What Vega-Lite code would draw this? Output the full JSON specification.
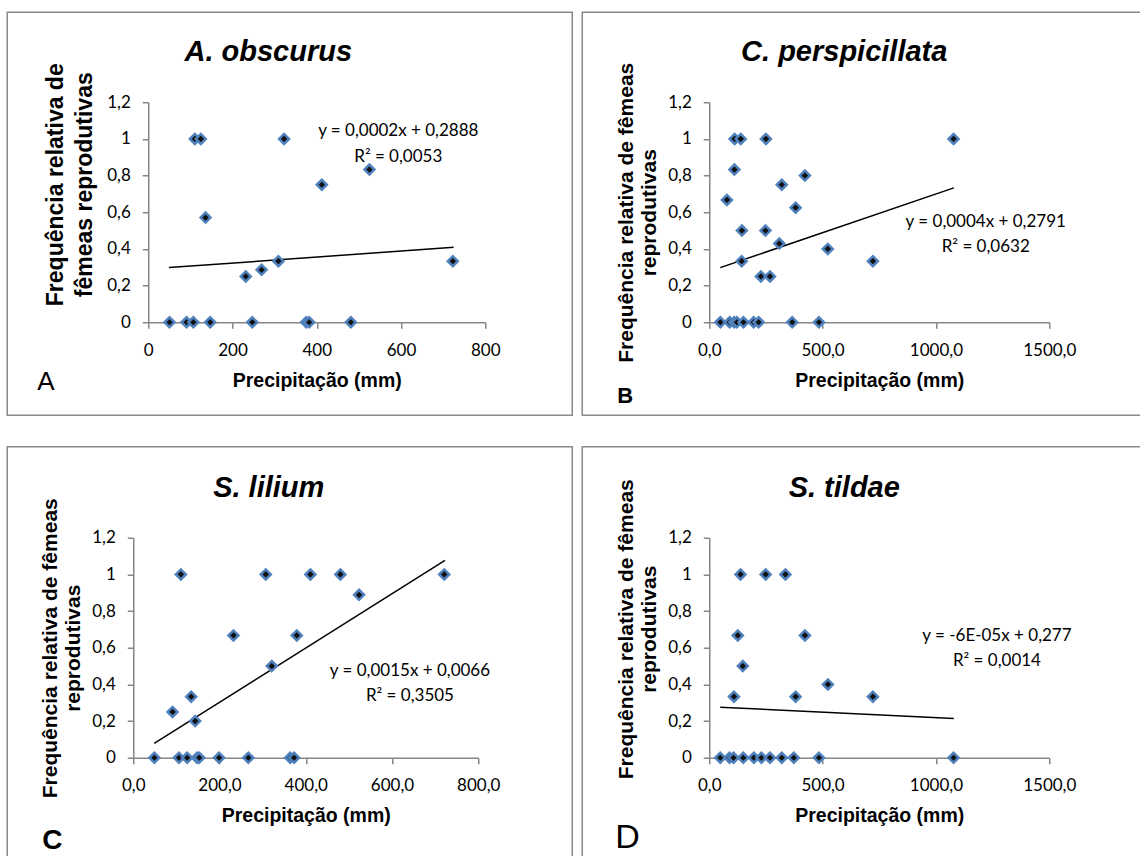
{
  "$schema": "https://vega.github.io/schema/vega-lite/v6.json",
  "background": "white",
  "padding": {"left": 6.25, "top": 11.25, "right": 0, "bottom": 0},
  "datasets": {
    "points": [
      {"species": "A. obscurus", "precip": 50.5, "freq": 0},
      {"species": "A. obscurus", "precip": 91, "freq": 0},
      {"species": "A. obscurus", "precip": 107, "freq": 0},
      {"species": "A. obscurus", "precip": 147, "freq": 0},
      {"species": "A. obscurus", "precip": 247, "freq": 0},
      {"species": "A. obscurus", "precip": 375, "freq": 0},
      {"species": "A. obscurus", "precip": 382, "freq": 0},
      {"species": "A. obscurus", "precip": 481, "freq": 0},
      {"species": "A. obscurus", "precip": 110.6, "freq": 1},
      {"species": "A. obscurus", "precip": 124.8, "freq": 1},
      {"species": "A. obscurus", "precip": 322.5, "freq": 1},
      {"species": "A. obscurus", "precip": 136, "freq": 0.571},
      {"species": "A. obscurus", "precip": 412, "freq": 0.75},
      {"species": "A. obscurus", "precip": 525, "freq": 0.833},
      {"species": "A. obscurus", "precip": 231.5, "freq": 0.25},
      {"species": "A. obscurus", "precip": 269, "freq": 0.286},
      {"species": "A. obscurus", "precip": 309, "freq": 0.333},
      {"species": "A. obscurus", "precip": 723, "freq": 0.333},

      {"species": "C. perspicillata", "precip": 49, "freq": 0},
      {"species": "C. perspicillata", "precip": 90, "freq": 0},
      {"species": "C. perspicillata", "precip": 110, "freq": 0},
      {"species": "C. perspicillata", "precip": 122, "freq": 0},
      {"species": "C. perspicillata", "precip": 151, "freq": 0},
      {"species": "C. perspicillata", "precip": 196, "freq": 0},
      {"species": "C. perspicillata", "precip": 218, "freq": 0},
      {"species": "C. perspicillata", "precip": 366, "freq": 0},
      {"species": "C. perspicillata", "precip": 484, "freq": 0},
      {"species": "C. perspicillata", "precip": 112, "freq": 1},
      {"species": "C. perspicillata", "precip": 139, "freq": 1},
      {"species": "C. perspicillata", "precip": 250, "freq": 1},
      {"species": "C. perspicillata", "precip": 1078, "freq": 1},
      {"species": "C. perspicillata", "precip": 111, "freq": 0.833},
      {"species": "C. perspicillata", "precip": 78, "freq": 0.667},
      {"species": "C. perspicillata", "precip": 144, "freq": 0.5},
      {"species": "C. perspicillata", "precip": 248, "freq": 0.5},
      {"species": "C. perspicillata", "precip": 143, "freq": 0.333},
      {"species": "C. perspicillata", "precip": 228, "freq": 0.25},
      {"species": "C. perspicillata", "precip": 268, "freq": 0.25},
      {"species": "C. perspicillata", "precip": 309, "freq": 0.429},
      {"species": "C. perspicillata", "precip": 320, "freq": 0.75},
      {"species": "C. perspicillata", "precip": 422, "freq": 0.8},
      {"species": "C. perspicillata", "precip": 381, "freq": 0.625},
      {"species": "C. perspicillata", "precip": 523, "freq": 0.4},
      {"species": "C. perspicillata", "precip": 722, "freq": 0.333},

      {"species": "S. lilium", "precip": 49, "freq": 0},
      {"species": "S. lilium", "precip": 106, "freq": 0},
      {"species": "S. lilium", "precip": 125, "freq": 0},
      {"species": "S. lilium", "precip": 148, "freq": 0},
      {"species": "S. lilium", "precip": 153, "freq": 0},
      {"species": "S. lilium", "precip": 199, "freq": 0},
      {"species": "S. lilium", "precip": 267, "freq": 0},
      {"species": "S. lilium", "precip": 364, "freq": 0},
      {"species": "S. lilium", "precip": 373, "freq": 0},
      {"species": "S. lilium", "precip": 110.4, "freq": 1},
      {"species": "S. lilium", "precip": 307.3, "freq": 1},
      {"species": "S. lilium", "precip": 410.8, "freq": 1},
      {"species": "S. lilium", "precip": 480.3, "freq": 1},
      {"species": "S. lilium", "precip": 721.2, "freq": 1},
      {"species": "S. lilium", "precip": 523.6, "freq": 0.889},
      {"species": "S. lilium", "precip": 232.4, "freq": 0.667},
      {"species": "S. lilium", "precip": 379.2, "freq": 0.667},
      {"species": "S. lilium", "precip": 321.2, "freq": 0.5},
      {"species": "S. lilium", "precip": 134.4, "freq": 0.333},
      {"species": "S. lilium", "precip": 91.1, "freq": 0.25},
      {"species": "S. lilium", "precip": 143.6, "freq": 0.2},

      {"species": "S. tildae", "precip": 48.5, "freq": 0},
      {"species": "S. tildae", "precip": 89.5, "freq": 0},
      {"species": "S. tildae", "precip": 107, "freq": 0},
      {"species": "S. tildae", "precip": 150, "freq": 0},
      {"species": "S. tildae", "precip": 197, "freq": 0},
      {"species": "S. tildae", "precip": 230, "freq": 0},
      {"species": "S. tildae", "precip": 268, "freq": 0},
      {"species": "S. tildae", "precip": 320, "freq": 0},
      {"species": "S. tildae", "precip": 373, "freq": 0},
      {"species": "S. tildae", "precip": 484, "freq": 0},
      {"species": "S. tildae", "precip": 1078, "freq": 0},
      {"species": "S. tildae", "precip": 138, "freq": 1},
      {"species": "S. tildae", "precip": 249, "freq": 1},
      {"species": "S. tildae", "precip": 336, "freq": 1},
      {"species": "S. tildae", "precip": 126, "freq": 0.667},
      {"species": "S. tildae", "precip": 422, "freq": 0.667},
      {"species": "S. tildae", "precip": 148, "freq": 0.5},
      {"species": "S. tildae", "precip": 109, "freq": 0.333},
      {"species": "S. tildae", "precip": 381, "freq": 0.333},
      {"species": "S. tildae", "precip": 722, "freq": 0.333},
      {"species": "S. tildae", "precip": 523.5, "freq": 0.4}
    ],
    "trend": [
      {"species": "A. obscurus", "precip": 49, "freq": 0.298},
      {"species": "A. obscurus", "precip": 725, "freq": 0.409},
      {"species": "C. perspicillata", "precip": 48.5, "freq": 0.298},
      {"species": "C. perspicillata", "precip": 1079, "freq": 0.733},
      {"species": "S. lilium", "precip": 48.6, "freq": 0.078},
      {"species": "S. lilium", "precip": 722.8, "freq": 1.076},
      {"species": "S. tildae", "precip": 48.5, "freq": 0.276},
      {"species": "S. tildae", "precip": 1079, "freq": 0.2145}
    ]
  },
  "config": {
    "locale": {"number": {"decimal": ",", "thousands": ".", "grouping": [3], "currency": ["R$", ""]}},
    "view": {"stroke": null},
    "axis": {"grid": false, "domainColor": "#868686", "domainWidth": 1.5, "tickColor": "#868686", "tickWidth": 1.5, "tickSize": 6, "labelFont": "Lato", "labelFontSize": 17, "labelColor": "#000000", "titleFont": "Liberation Sans", "titleFontWeight": "bold", "titleColor": "#000000", "labelOverlap": false, "labelBound": false},
    "axisX": {"labelPadding": 14, "titleFontSize": 19.5, "titlePadding": 13, "labelAngle": 0, "labelFlush": false},
    "axisY": {"labelPadding": 12, "titleFontSize": 21, "titleLineHeight": 23.5, "titlePadding": 8, "labelSeparation": 0},
    "title": {"frame": "group", "anchor": "middle", "baseline": "alphabetic", "font": "Liberation Sans", "fontSize": 29, "fontStyle": "italic", "fontWeight": "bold", "color": "#000000"},
    "text": {"font": "Lato", "fontSize": 17, "color": "#000000"}
  },
  "bounds": "full",
  "spacing": 29.5,
  "vconcat": [
    {
      "bounds": "flush",
      "spacing": 224,
      "hconcat": [
        {
          "width": 352, "height": 220,
          "title": {"text": "A. obscurus", "dx": -41, "offset": -55.75},
          "layer": [
            {
              "data": {"values": [{}]},
              "mark": {"type": "rect", "fillOpacity": 0, "stroke": "#898989", "strokeWidth": 1.5, "clip": false},
              "encoding": {
                "x": {"datum": -334.7, "type": "quantitative", "scale": {"domain": [0, 800], "range": [15, 352], "nice": false, "zero": false}, "axis": {"title": "Precipitação (mm)", "values": [0, 200, 400, 600, 800], "tickCount": 10, "format": "d", "labelOverlap": false}},
                "x2": {"datum": 1006.5},
                "y": {"datum": 1.691, "type": "quantitative", "scale": {"domain": [0, 1.2], "nice": false, "zero": false}, "axis": {"title": ["Frequência relativa de", "fêmeas reprodutivas"], "offset": -15, "titleFontSize": 23, "titleLineHeight": 29, "titleY": 82, "titlePadding": 10, "values": [0, 0.2, 0.4, 0.6, 0.8, 1, 1.2], "tickCount": 10, "format": ".1~f", "labelOverlap": false}},
                "y2": {"datum": -0.507}
              }
            },
            {
              "data": {"name": "trend"},
              "transform": [{"filter": "datum.species === 'A. obscurus'"}],
              "mark": {"type": "line", "color": "#000000", "strokeWidth": 1.5},
              "encoding": {
                "x": {"field": "precip", "type": "quantitative", "scale": {"domain": [0, 800], "range": [15, 352], "nice": false, "zero": false}},
                "y": {"field": "freq", "type": "quantitative", "scale": {"domain": [0, 1.2], "nice": false, "zero": false}}
              }
            },
            {
              "data": {"name": "points"},
              "transform": [{"filter": "datum.species === 'A. obscurus'"}],
              "mark": {"type": "point", "shape": "diamond", "filled": true, "fill": "#111111", "stroke": "#4F81BD", "strokeWidth": 2.5, "size": 100, "opacity": 1},
              "encoding": {
                "x": {"field": "precip", "type": "quantitative", "scale": {"domain": [0, 800], "range": [15, 352], "nice": false, "zero": false}},
                "y": {"field": "freq", "type": "quantitative", "scale": {"domain": [0, 1.2], "nice": false, "zero": false}}
              }
            },
            {
              "data": {"values": [{}]},
              "mark": {"type": "text", "text": ["y = 0,0002x + 0,2888", "R² = 0,0053"], "align": "center", "baseline": "alphabetic", "lineHeight": 26},
              "encoding": {
                "x": {"datum": 593.5, "type": "quantitative", "scale": {"domain": [0, 800], "range": [15, 352], "nice": false, "zero": false}},
                "y": {"datum": 1.0145, "type": "quantitative", "scale": {"domain": [0, 1.2], "nice": false, "zero": false}}
              }
            },
            {
              "data": {"values": [{}]},
              "mark": {"type": "text", "text": "A", "align": "left", "baseline": "alphabetic", "font": "Liberation Sans", "fontSize": 26, "fontWeight": "normal"},
              "encoding": {
                "x": {"datum": -263.5, "type": "quantitative", "scale": {"domain": [0, 800], "range": [15, 352], "nice": false, "zero": false}},
                "y": {"datum": -0.371, "type": "quantitative", "scale": {"domain": [0, 1.2], "nice": false, "zero": false}}
              }
            }
          ]
        },
        {
          "width": 340, "height": 220,
          "title": {"text": "C. perspicillata", "dx": -35, "offset": -55.75},
          "layer": [
            {
              "data": {"values": [{}]},
              "mark": {"type": "rect", "fillOpacity": 0, "stroke": "#898989", "strokeWidth": 1.5, "clip": false},
              "encoding": {
                "x": {"datum": -560.3, "type": "quantitative", "scale": {"domain": [0, 1500], "nice": false, "zero": false}, "axis": {"title": "Precipitação (mm)", "values": [0, 500, 1000, 1500], "tickCount": 10, "format": ".1f", "labelOverlap": false}},
                "x2": {"datum": 1928},
                "y": {"datum": 1.691, "type": "quantitative", "scale": {"domain": [0, 1.2], "nice": false, "zero": false}, "axis": {"title": ["Frequência relativa de fêmeas", "reprodutivas"], "values": [0, 0.2, 0.4, 0.6, 0.8, 1, 1.2], "tickCount": 10, "format": ".1~f", "labelOverlap": false}},
                "y2": {"datum": -0.507}
              }
            },
            {
              "data": {"name": "trend"},
              "transform": [{"filter": "datum.species === 'C. perspicillata'"}],
              "mark": {"type": "line", "color": "#000000", "strokeWidth": 1.5},
              "encoding": {
                "x": {"field": "precip", "type": "quantitative", "scale": {"domain": [0, 1500], "nice": false, "zero": false}},
                "y": {"field": "freq", "type": "quantitative", "scale": {"domain": [0, 1.2], "nice": false, "zero": false}}
              }
            },
            {
              "data": {"name": "points"},
              "transform": [{"filter": "datum.species === 'C. perspicillata'"}],
              "mark": {"type": "point", "shape": "diamond", "filled": true, "fill": "#111111", "stroke": "#4F81BD", "strokeWidth": 2.5, "size": 100, "opacity": 1},
              "encoding": {
                "x": {"field": "precip", "type": "quantitative", "scale": {"domain": [0, 1500], "nice": false, "zero": false}},
                "y": {"field": "freq", "type": "quantitative", "scale": {"domain": [0, 1.2], "nice": false, "zero": false}}
              }
            },
            {
              "data": {"values": [{}]},
              "mark": {"type": "text", "text": ["y = 0,0004x + 0,2791", "R² = 0,0632"], "align": "center", "baseline": "alphabetic", "lineHeight": 25},
              "encoding": {
                "x": {"datum": 1219.8, "type": "quantitative", "scale": {"domain": [0, 1500], "nice": false, "zero": false}},
                "y": {"datum": 0.518, "type": "quantitative", "scale": {"domain": [0, 1.2], "nice": false, "zero": false}}
              }
            },
            {
              "data": {"values": [{}]},
              "mark": {"type": "text", "text": "B", "align": "left", "baseline": "alphabetic", "font": "Liberation Sans", "fontSize": 22, "fontWeight": "bold"},
              "encoding": {
                "x": {"datum": -405.9, "type": "quantitative", "scale": {"domain": [0, 1500], "nice": false, "zero": false}},
                "y": {"datum": -0.442, "type": "quantitative", "scale": {"domain": [0, 1.2], "nice": false, "zero": false}}
              }
            }
          ]
        }
      ]
    },
    {
      "bounds": "flush",
      "spacing": 231,
      "hconcat": [
        {
          "width": 345, "height": 220,
          "title": {"text": "S. lilium", "dx": -37, "offset": -56.65},
          "layer": [
            {
              "data": {"values": [{}]},
              "mark": {"type": "rect", "fillOpacity": 0, "stroke": "#898989", "strokeWidth": 1.5, "clip": false},
              "encoding": {
                "x": {"datum": -292.2, "type": "quantitative", "scale": {"domain": [0, 800], "nice": false, "zero": false}, "axis": {"title": "Precipitação (mm)", "values": [0, 200, 400, 600, 800], "tickCount": 10, "format": ".1f", "labelOverlap": false}},
                "x2": {"datum": 1018},
                "y": {"datum": 1.696, "type": "quantitative", "scale": {"domain": [0, 1.2], "nice": false, "zero": false}, "axis": {"title": ["Frequência relativa de fêmeas", "reprodutivas"], "values": [0, 0.2, 0.4, 0.6, 0.8, 1, 1.2], "tickCount": 10, "format": ".1~f", "labelOverlap": false}},
                "y2": {"datum": -0.616}
              }
            },
            {
              "data": {"name": "trend"},
              "transform": [{"filter": "datum.species === 'S. lilium'"}],
              "mark": {"type": "line", "color": "#000000", "strokeWidth": 1.5},
              "encoding": {
                "x": {"field": "precip", "type": "quantitative", "scale": {"domain": [0, 800], "nice": false, "zero": false}},
                "y": {"field": "freq", "type": "quantitative", "scale": {"domain": [0, 1.2], "nice": false, "zero": false}}
              }
            },
            {
              "data": {"name": "points"},
              "transform": [{"filter": "datum.species === 'S. lilium'"}],
              "mark": {"type": "point", "shape": "diamond", "filled": true, "fill": "#111111", "stroke": "#4F81BD", "strokeWidth": 2.5, "size": 100, "opacity": 1},
              "encoding": {
                "x": {"field": "precip", "type": "quantitative", "scale": {"domain": [0, 800], "nice": false, "zero": false}},
                "y": {"field": "freq", "type": "quantitative", "scale": {"domain": [0, 1.2], "nice": false, "zero": false}}
              }
            },
            {
              "data": {"values": [{}]},
              "mark": {"type": "text", "text": ["y = 0,0015x + 0,0066", "R² = 0,3505"], "align": "center", "baseline": "alphabetic", "lineHeight": 25.7},
              "encoding": {
                "x": {"datum": 641.6, "type": "quantitative", "scale": {"domain": [0, 800], "nice": false, "zero": false}},
                "y": {"datum": 0.447, "type": "quantitative", "scale": {"domain": [0, 1.2], "nice": false, "zero": false}}
              }
            },
            {
              "data": {"values": [{}]},
              "mark": {"type": "text", "text": "C", "align": "left", "baseline": "alphabetic", "font": "Liberation Sans", "fontSize": 28, "fontWeight": "bold"},
              "encoding": {
                "x": {"datum": -211, "type": "quantitative", "scale": {"domain": [0, 800], "nice": false, "zero": false}},
                "y": {"datum": -0.496, "type": "quantitative", "scale": {"domain": [0, 1.2], "nice": false, "zero": false}}
              }
            }
          ]
        },
        {
          "width": 340, "height": 220,
          "title": {"text": "S. tildae", "dx": -35, "offset": -56.65},
          "layer": [
            {
              "data": {"values": [{}]},
              "mark": {"type": "rect", "fillOpacity": 0, "stroke": "#898989", "strokeWidth": 1.5, "clip": false},
              "encoding": {
                "x": {"datum": -560.3, "type": "quantitative", "scale": {"domain": [0, 1500], "nice": false, "zero": false}, "axis": {"title": "Precipitação (mm)", "values": [0, 500, 1000, 1500], "tickCount": 10, "format": ".1f", "labelOverlap": false}},
                "x2": {"datum": 1928},
                "y": {"datum": 1.696, "type": "quantitative", "scale": {"domain": [0, 1.2], "nice": false, "zero": false}, "axis": {"title": ["Frequência relativa de fêmeas", "reprodutivas"], "titleY": 91, "values": [0, 0.2, 0.4, 0.6, 0.8, 1, 1.2], "tickCount": 10, "format": ".1~f", "labelOverlap": false}},
                "y2": {"datum": -0.616}
              }
            },
            {
              "data": {"name": "trend"},
              "transform": [{"filter": "datum.species === 'S. tildae'"}],
              "mark": {"type": "line", "color": "#000000", "strokeWidth": 1.5},
              "encoding": {
                "x": {"field": "precip", "type": "quantitative", "scale": {"domain": [0, 1500], "nice": false, "zero": false}},
                "y": {"field": "freq", "type": "quantitative", "scale": {"domain": [0, 1.2], "nice": false, "zero": false}}
              }
            },
            {
              "data": {"name": "points"},
              "transform": [{"filter": "datum.species === 'S. tildae'"}],
              "mark": {"type": "point", "shape": "diamond", "filled": true, "fill": "#111111", "stroke": "#4F81BD", "strokeWidth": 2.5, "size": 100, "opacity": 1},
              "encoding": {
                "x": {"field": "precip", "type": "quantitative", "scale": {"domain": [0, 1500], "nice": false, "zero": false}},
                "y": {"field": "freq", "type": "quantitative", "scale": {"domain": [0, 1.2], "nice": false, "zero": false}}
              }
            },
            {
              "data": {"values": [{}]},
              "mark": {"type": "text", "text": ["y = -6E-05x + 0,277", "R² = 0,0014"], "align": "center", "baseline": "alphabetic", "lineHeight": 25.7},
              "encoding": {
                "x": {"datum": 1269.2, "type": "quantitative", "scale": {"domain": [0, 1500], "nice": false, "zero": false}},
                "y": {"datum": 0.638, "type": "quantitative", "scale": {"domain": [0, 1.2], "nice": false, "zero": false}}
              }
            },
            {
              "data": {"values": [{}]},
              "mark": {"type": "text", "text": "D", "align": "left", "baseline": "alphabetic", "font": "Liberation Sans", "fontSize": 34, "fontWeight": "normal"},
              "encoding": {
                "x": {"datum": -414.7, "type": "quantitative", "scale": {"domain": [0, 1500], "nice": false, "zero": false}},
                "y": {"datum": -0.491, "type": "quantitative", "scale": {"domain": [0, 1.2], "nice": false, "zero": false}}
              }
            }
          ]
        }
      ]
    }
  ]
}
